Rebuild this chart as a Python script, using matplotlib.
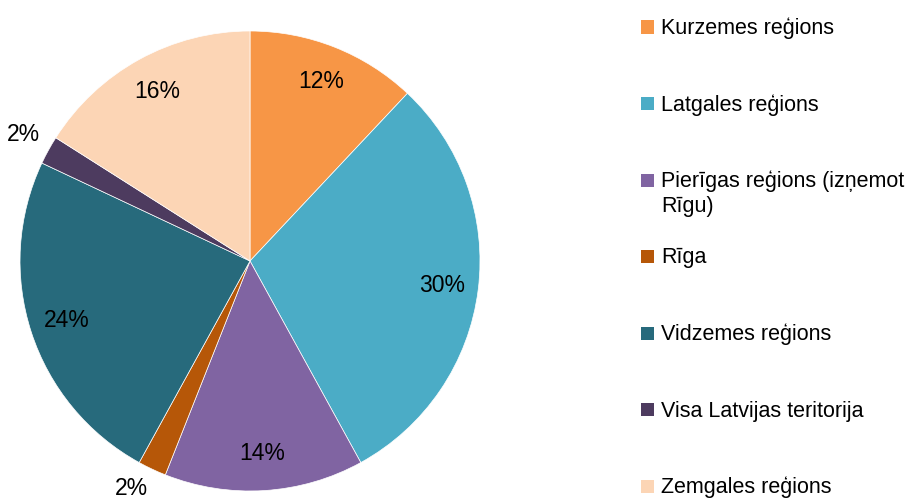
import matplotlib
matplotlib.use('Agg')
import matplotlib.pyplot as plt
from matplotlib.patches import Rectangle
import numpy as np

plt.rcParams['font.family'] = ['Liberation Sans Narrow', 'Liberation Sans', 'DejaVu Sans']

regioni = ['Kurzemes reģions', 'Latgales reģions', 'Pierīgas reģions (izņemot\nRīgu)',
           'Rīga', 'Vidzemes reģions', 'Visa Latvijas teritorija', 'Zemgales reģions']
procenti = [12, 30, 14, 2, 24, 2, 16]
krasas = ['#F79646', '#4BACC6', '#8064A2', '#B65708', '#276A7C', '#4D3B5F', '#FCD5B5']

fig = plt.figure(figsize=(9.13, 4.99), dpi=100)
W, H = 913, 499

# pie axes: circle from x=20..480, y=31..491 (pixels from top)
ax = fig.add_axes([20 / W, (H - 491) / H, 460 / W, 460 / H])
wedges, _ = ax.pie(procenti, colors=krasas, startangle=90, counterclock=False,
                   wedgeprops=dict(edgecolor='white', linewidth=0.5))
ax.set_xlim(-1, 1)
ax.set_ylim(-1, 1)

for w, p in zip(wedges, procenti):
    ang = np.deg2rad((w.theta1 + w.theta2) / 2)
    x, y = np.cos(ang), np.sin(ang)
    if p > 5:
        ax.text(0.84 * x, 0.84 * y, f'{p}%', ha='center', va='center',
                fontsize=16.5, color='black')
    else:
        # small slices: label outside, corner touching the rim
        ax.text(1.04 * x, 1.04 * y, f'{p}%', ha='right' if x < 0 else 'left',
                va='top' if y < 0 else 'bottom', fontsize=16.5, color='black',
                clip_on=False)

# legend drawn by hand: equal slots, marker next to the first line
line_h = 25
solis = 76.5
for k, (nosaukums, c) in enumerate(zip(regioni, krasas)):
    yy = 27 + k * solis
    fig.patches.append(Rectangle((641 / W, (H - yy - 6.5) / H), 13 / W, 13 / H,
                                 transform=fig.transFigure, facecolor=c, edgecolor='none'))
    for i, rinda in enumerate(nosaukums.split('\n')):
        fig.text(661 / W, (H - yy - 7 - i * line_h) / H, rinda, ha='left', va='baseline',
                 fontsize=15.5)

fig.savefig('out.png', dpi=100)
